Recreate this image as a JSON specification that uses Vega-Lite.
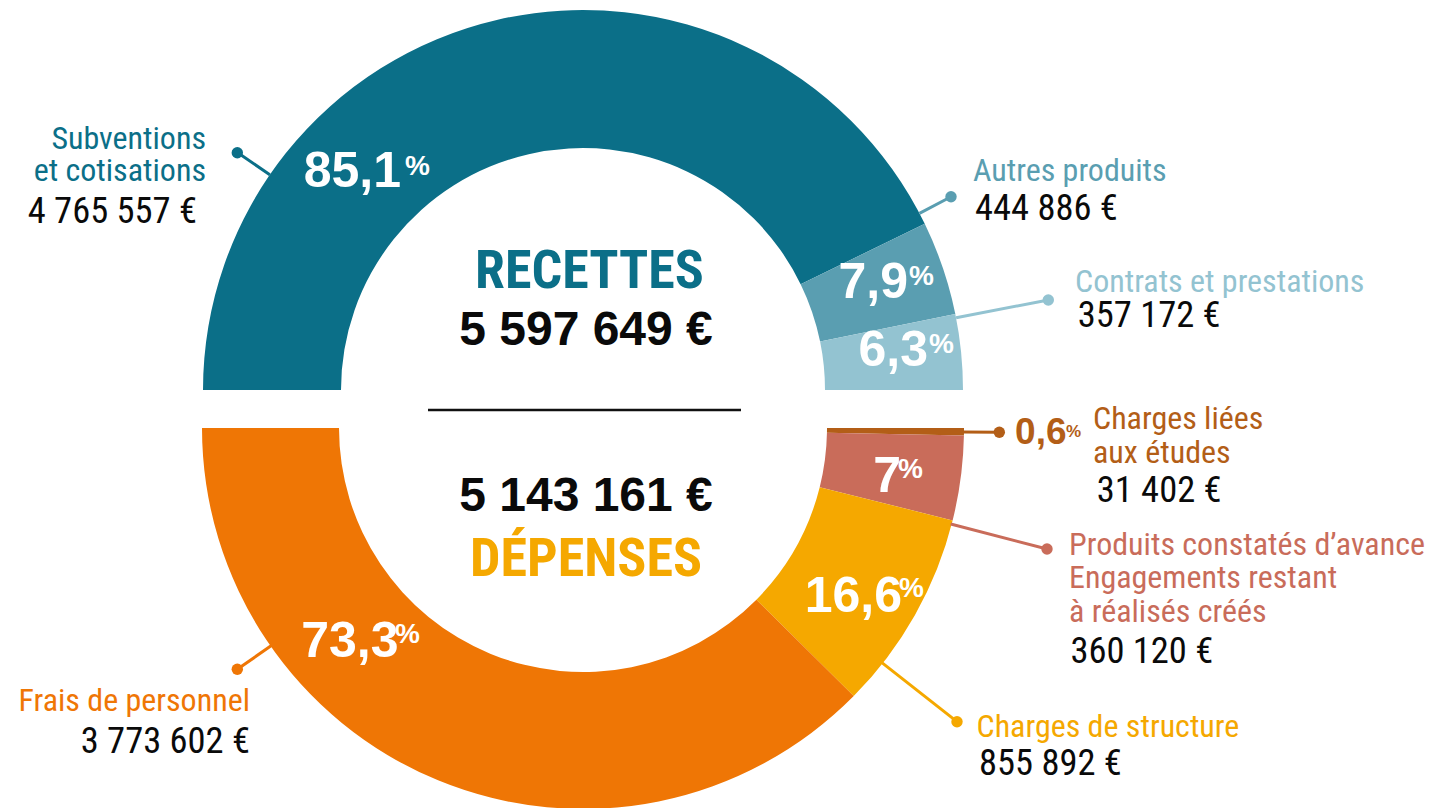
{
  "$schema": "https://vega.github.io/schema/vega-lite/v6.json",
  "width": 1166,
  "height": 808,
  "padding": 0,
  "autosize": {"type": "pad"},
  "background": "white",
  "config": {
    "view": {"stroke": null},
    "locale": {"number": {"decimal": ",", "thousands": " ", "grouping": [3], "currency": ["", " €"]}}
  },
  "datasets": {
    "segments": [
      {"ord": 1, "half": "R", "category": "Subventions et cotisations", "label": "Subventions\net cotisations", "value": 4765557, "pct": 85.1},
      {"ord": 2, "half": "R", "category": "Autres produits", "label": "Autres produits", "value": 444886, "pct": 7.9},
      {"ord": 3, "half": "R", "category": "Contrats et prestations", "label": "Contrats et prestations", "value": 357172, "pct": 6.3},
      {"ord": 4, "half": "D", "category": "Charges liées aux études", "label": "Charges liées\naux études", "value": 31402, "pct": 0.6},
      {"ord": 5, "half": "D", "category": "Produits constatés d’avance", "label": "Produits constatés d’avance\nEngagements restant\nà réalisés créés", "value": 360120, "pct": 7},
      {"ord": 6, "half": "D", "category": "Charges de structure", "label": "Charges de structure", "value": 855892, "pct": 16.6},
      {"ord": 7, "half": "D", "category": "Frais de personnel", "label": "Frais de personnel", "value": 3773602, "pct": 73.3}
    ],
    "totals": [
      {"ord": 1, "title": "RECETTES", "total": 5597649},
      {"ord": 2, "title": "DÉPENSES", "total": 5143161}
    ]
  },
  "layer": [
    {
      "data": {"name": "segments"},
      "transform": [{"filter": "datum.half === 'R'"}],
      "mark": {"type": "arc", "radius": 380, "radius2": 242, "yOffset": -14},
      "encoding": {
        "theta": {"field": "value", "type": "quantitative", "stack": true, "scale": {"range": [-1.5708, 1.5708]}},
        "order": {"field": "ord", "type": "quantitative"},
        "color": {"field": "category", "type": "nominal", "legend": null,
          "scale": {"domain": ["Subventions et cotisations","Autres produits","Contrats et prestations","Charges liées aux études","Produits constatés d’avance","Charges de structure","Frais de personnel","RECETTES","DÉPENSES"],
                    "range": ["#0b6f88","#5a9eb1","#93c3d1","#b35e17","#c96c5a","#f5a800","#ef7605","#0b6f88","#f5a800"]}}
      }
    },
    {
      "data": {"name": "segments"},
      "transform": [{"filter": "datum.half === 'D'"}],
      "mark": {"type": "arc", "radius": 381, "radius2": 244, "yOffset": 24},
      "encoding": {
        "theta": {"field": "value", "type": "quantitative", "stack": true, "scale": {"range": [1.5708, 4.7124]}},
        "order": {"field": "ord", "type": "quantitative"},
        "color": {"field": "category", "type": "nominal", "legend": null,
          "scale": {"domain": ["Subventions et cotisations","Autres produits","Contrats et prestations","Charges liées aux études","Produits constatés d’avance","Charges de structure","Frais de personnel","RECETTES","DÉPENSES"],
                    "range": ["#0b6f88","#5a9eb1","#93c3d1","#b35e17","#c96c5a","#f5a800","#ef7605","#0b6f88","#f5a800"]}}
      }
    },
    {
      "data": {"name": "segments"},
      "transform": [{"filter": "datum.half === 'R'"}],
      "mark": {"type": "arc", "filled": false, "strokeWidth": 3, "yOffset": -14},
      "encoding": {
        "theta": {"field": "ord", "type": "quantitative", "stack": null, "scale": {"type": "linear", "domain": [1, 2, 3], "range": [-0.9687, 1.0872, 1.3797], "zero": false, "nice": false}},
        "theta2": {"field": "ord"},
        "radius": {"field": "ord", "type": "quantitative", "stack": null, "scale": {"type": "linear", "domain": [1, 2, 3], "range": [419.3, 415.7, 473.9], "zero": false, "nice": false}},
        "radius2": {"value": 380},
        "color": {"field": "category", "type": "nominal", "legend": null,
          "scale": {"domain": ["Subventions et cotisations","Autres produits","Contrats et prestations","Charges liées aux études","Produits constatés d’avance","Charges de structure","Frais de personnel","RECETTES","DÉPENSES"],
                    "range": ["#0b6f88","#5a9eb1","#93c3d1","#b35e17","#c96c5a","#f5a800","#ef7605","#0b6f88","#f5a800"]}}
      }
    },
    {
      "data": {"name": "segments"},
      "transform": [{"filter": "datum.half === 'D'"}],
      "mark": {"type": "arc", "filled": false, "strokeWidth": 3, "yOffset": 24},
      "encoding": {
        "theta": {"field": "ord", "type": "quantitative", "stack": null, "scale": {"type": "linear", "domain": [4, 5, 6, 7], "range": [1.5811, 1.826, 2.2365, 4.1029], "zero": false, "nice": false}},
        "theta2": {"field": "ord"},
        "radius": {"field": "ord", "type": "quantitative", "stack": null, "scale": {"type": "linear", "domain": [4, 5, 6, 7], "range": [416.3, 479.5, 475.5, 421.6], "zero": false, "nice": false}},
        "radius2": {"value": 380},
        "color": {"field": "category", "type": "nominal", "legend": null,
          "scale": {"domain": ["Subventions et cotisations","Autres produits","Contrats et prestations","Charges liées aux études","Produits constatés d’avance","Charges de structure","Frais de personnel","RECETTES","DÉPENSES"],
                    "range": ["#0b6f88","#5a9eb1","#93c3d1","#b35e17","#c96c5a","#f5a800","#ef7605","#0b6f88","#f5a800"]}}
      }
    },
    {
      "data": {"name": "segments"},
      "mark": {"type": "circle", "size": 130, "opacity": 1},
      "encoding": {
        "x": {"field": "ord", "type": "quantitative", "axis": null, "scale": {"domain": [1, 2, 3, 4, 5, 6, 7], "range": [237.3, 951, 1048.3, 999.3, 1047, 957, 237.3], "zero": false, "nice": false}},
        "y": {"field": "ord", "type": "quantitative", "axis": null, "scale": {"domain": [1, 2, 3, 4, 5, 6, 7], "range": [152.7, 196.7, 300, 432.3, 549, 721.7, 669.3], "zero": false, "nice": false}},
        "color": {"field": "category", "type": "nominal", "legend": null,
          "scale": {"domain": ["Subventions et cotisations","Autres produits","Contrats et prestations","Charges liées aux études","Produits constatés d’avance","Charges de structure","Frais de personnel","RECETTES","DÉPENSES"],
                    "range": ["#0b6f88","#5a9eb1","#93c3d1","#b35e17","#c96c5a","#f5a800","#ef7605","#0b6f88","#f5a800"]}}
      }
    },
    {
      "data": {"name": "totals"},
      "mark": {"type": "arc", "filled": false, "stroke": "#111111", "strokeWidth": 2.5, "yOffset": 6},
      "encoding": {
        "theta": {"field": "ord", "type": "quantitative", "stack": null, "scale": {"type": "linear", "domain": [1, 2], "range": [-1.5708, 1.5708], "zero": false, "nice": false}},
        "theta2": {"field": "ord"},
        "radius": {"field": "ord", "type": "quantitative", "stack": null, "scale": {"type": "linear", "domain": [1, 2], "range": [155, 158], "zero": false, "nice": false}},
        "radius2": {"value": 0}
      }
    },
    {
      "data": {"name": "segments"},
      "transform": [{"filter": "datum.ord !== 4"}],
      "mark": {"type": "text", "align": "right", "baseline": "alphabetic", "font": "Liberation Sans, Arial, sans-serif", "fontWeight": "bold", "fontSize": 50, "color": "#ffffff"},
      "encoding": {
        "x": {"field": "ord", "type": "quantitative", "axis": null, "scale": {"domain": [1, 2, 3, 5, 6, 7], "range": [401, 908, 928, 901, 902, 398.5], "zero": false, "nice": false}},
        "y": {"field": "ord", "type": "quantitative", "axis": null, "scale": {"domain": [1, 2, 3, 5, 6, 7], "range": [187, 298, 366, 492, 612, 657], "zero": false, "nice": false}},
        "text": {"field": "pct", "type": "quantitative", "format": ".3~g"}
      }
    },
    {
      "data": {"name": "segments"},
      "transform": [{"filter": "datum.ord !== 4"}],
      "mark": {"type": "text", "align": "left", "baseline": "alphabetic", "font": "Liberation Sans, Arial, sans-serif", "fontWeight": "bold", "fontSize": 28, "color": "#ffffff"},
      "encoding": {
        "x": {"field": "ord", "type": "quantitative", "axis": null, "scale": {"domain": [1, 2, 3, 5, 6, 7], "range": [405, 909, 929, 898, 899, 395], "zero": false, "nice": false}},
        "y": {"field": "ord", "type": "quantitative", "axis": null, "scale": {"domain": [1, 2, 3, 5, 6, 7], "range": [175, 285, 353, 478.3, 596.7, 643.3], "zero": false, "nice": false}},
        "text": {"value": "%"}
      }
    },
    {
      "data": {"name": "segments"},
      "transform": [{"filter": "datum.ord === 4"}],
      "mark": {"type": "text", "align": "right", "baseline": "alphabetic", "font": "Liberation Sans, Arial, sans-serif", "fontWeight": "bold", "fontSize": 37, "color": "#b35e17"},
      "encoding": {
        "x": {"field": "ord", "type": "quantitative", "axis": null, "scale": {"domain": [4, 5], "range": [1066.5, 1066.5], "zero": false, "nice": false}},
        "y": {"field": "ord", "type": "quantitative", "axis": null, "scale": {"domain": [4, 5], "range": [444, 444], "zero": false, "nice": false}},
        "text": {"field": "pct", "type": "quantitative", "format": ".3~g"}
      }
    },
    {
      "data": {"name": "segments"},
      "transform": [{"filter": "datum.ord === 4"}],
      "mark": {"type": "text", "align": "left", "baseline": "alphabetic", "font": "Liberation Sans, Arial, sans-serif", "fontWeight": "bold", "fontSize": 17, "color": "#b35e17"},
      "encoding": {
        "x": {"field": "ord", "type": "quantitative", "axis": null, "scale": {"domain": [4, 5], "range": [1066, 1066], "zero": false, "nice": false}},
        "y": {"field": "ord", "type": "quantitative", "axis": null, "scale": {"domain": [4, 5], "range": [436.7, 436.7], "zero": false, "nice": false}},
        "text": {"value": "%"}
      }
    },
    {
      "data": {"name": "segments"},
      "transform": [{"filter": "datum.ord >= 2 && datum.ord <= 6"}],
      "mark": {"type": "text", "align": "left", "baseline": "alphabetic", "font": "Liberation Sans Narrow, Roboto Condensed, DejaVu Sans Condensed, Arial Narrow, sans-serif", "fontSize": 32, "lineBreak": "\n", "lineHeight": 33.4},
      "encoding": {
        "x": {"field": "ord", "type": "quantitative", "axis": null, "scale": {"domain": [2, 3, 4, 5, 6], "range": [973, 1075, 1093, 1069, 976.5], "zero": false, "nice": false}},
        "y": {"field": "ord", "type": "quantitative", "axis": null, "scale": {"domain": [2, 3, 4, 5, 6], "range": [180.7, 291.7, 429.3, 555, 737.3], "zero": false, "nice": false}},
        "text": {"field": "label", "type": "nominal"},
        "color": {"field": "category", "type": "nominal", "legend": null,
          "scale": {"domain": ["Subventions et cotisations","Autres produits","Contrats et prestations","Charges liées aux études","Produits constatés d’avance","Charges de structure","Frais de personnel","RECETTES","DÉPENSES"],
                    "range": ["#0b6f88","#5a9eb1","#93c3d1","#b35e17","#c96c5a","#f5a800","#ef7605","#0b6f88","#f5a800"]}}
      }
    },
    {
      "data": {"name": "segments"},
      "transform": [{"filter": "datum.ord === 1 || datum.ord === 7"}],
      "mark": {"type": "text", "align": "right", "baseline": "alphabetic", "font": "Liberation Sans Narrow, Roboto Condensed, DejaVu Sans Condensed, Arial Narrow, sans-serif", "fontSize": 32, "lineBreak": "\n", "lineHeight": 31.4},
      "encoding": {
        "x": {"field": "ord", "type": "quantitative", "axis": null, "scale": {"domain": [1, 7], "range": [206, 250], "zero": false, "nice": false}},
        "y": {"field": "ord", "type": "quantitative", "axis": null, "scale": {"domain": [1, 7], "range": [149.3, 710.7], "zero": false, "nice": false}},
        "text": {"field": "label", "type": "nominal"},
        "color": {"field": "category", "type": "nominal", "legend": null,
          "scale": {"domain": ["Subventions et cotisations","Autres produits","Contrats et prestations","Charges liées aux études","Produits constatés d’avance","Charges de structure","Frais de personnel","RECETTES","DÉPENSES"],
                    "range": ["#0b6f88","#5a9eb1","#93c3d1","#b35e17","#c96c5a","#f5a800","#ef7605","#0b6f88","#f5a800"]}}
      }
    },
    {
      "data": {"name": "segments"},
      "transform": [{"filter": "datum.ord >= 2 && datum.ord <= 6"}],
      "mark": {"type": "text", "align": "left", "baseline": "alphabetic", "font": "Liberation Sans Narrow, Roboto Condensed, DejaVu Sans Condensed, Arial Narrow, sans-serif", "fontSize": 36.5, "color": "#0a0a0a"},
      "encoding": {
        "x": {"field": "ord", "type": "quantitative", "axis": null, "scale": {"domain": [2, 3, 4, 5, 6], "range": [975, 1077.7, 1096.7, 1070.4, 979], "zero": false, "nice": false}},
        "y": {"field": "ord", "type": "quantitative", "axis": null, "scale": {"domain": [2, 3, 4, 5, 6], "range": [220, 326.7, 501.7, 663.3, 775], "zero": false, "nice": false}},
        "text": {"field": "value", "type": "quantitative", "format": "$,.0f"}
      }
    },
    {
      "data": {"name": "segments"},
      "transform": [{"filter": "datum.ord === 1 || datum.ord === 7"}],
      "mark": {"type": "text", "align": "right", "baseline": "alphabetic", "font": "Liberation Sans Narrow, Roboto Condensed, DejaVu Sans Condensed, Arial Narrow, sans-serif", "fontSize": 36.5, "color": "#0a0a0a"},
      "encoding": {
        "x": {"field": "ord", "type": "quantitative", "axis": null, "scale": {"domain": [1, 7], "range": [197, 250], "zero": false, "nice": false}},
        "y": {"field": "ord", "type": "quantitative", "axis": null, "scale": {"domain": [1, 7], "range": [222.7, 752.7], "zero": false, "nice": false}},
        "text": {"field": "value", "type": "quantitative", "format": "$,.0f"}
      }
    },
    {
      "data": {"name": "totals"},
      "mark": {"type": "text", "align": "center", "baseline": "alphabetic", "font": "Liberation Sans Narrow, Roboto Condensed, DejaVu Sans Condensed, Arial Narrow, sans-serif", "fontWeight": "bold", "fontSize": 54},
      "encoding": {
        "x": {"field": "ord", "type": "quantitative", "axis": null, "scale": {"domain": [1, 2], "range": [589.5, 586], "zero": false, "nice": false}},
        "y": {"field": "ord", "type": "quantitative", "axis": null, "scale": {"domain": [1, 2], "range": [288, 576], "zero": false, "nice": false}},
        "text": {"field": "title", "type": "nominal"},
        "color": {"field": "title", "type": "nominal", "legend": null,
          "scale": {"domain": ["Subventions et cotisations","Autres produits","Contrats et prestations","Charges liées aux études","Produits constatés d’avance","Charges de structure","Frais de personnel","RECETTES","DÉPENSES"],
                    "range": ["#0b6f88","#5a9eb1","#93c3d1","#b35e17","#c96c5a","#f5a800","#ef7605","#0b6f88","#f5a800"]}}
      }
    },
    {
      "data": {"name": "totals"},
      "mark": {"type": "text", "align": "center", "baseline": "alphabetic", "font": "Liberation Sans, Arial, sans-serif", "fontWeight": "bold", "fontSize": 48, "color": "#0a0a0a"},
      "encoding": {
        "x": {"field": "ord", "type": "quantitative", "axis": null, "scale": {"domain": [1, 2], "range": [586, 586], "zero": false, "nice": false}},
        "y": {"field": "ord", "type": "quantitative", "axis": null, "scale": {"domain": [1, 2], "range": [345, 511], "zero": false, "nice": false}},
        "text": {"field": "total", "type": "quantitative", "format": "$,.0f"}
      }
    }
  ],
  "resolve": {"scale": {"theta": "independent", "radius": "independent", "x": "independent", "y": "independent"}}
}
